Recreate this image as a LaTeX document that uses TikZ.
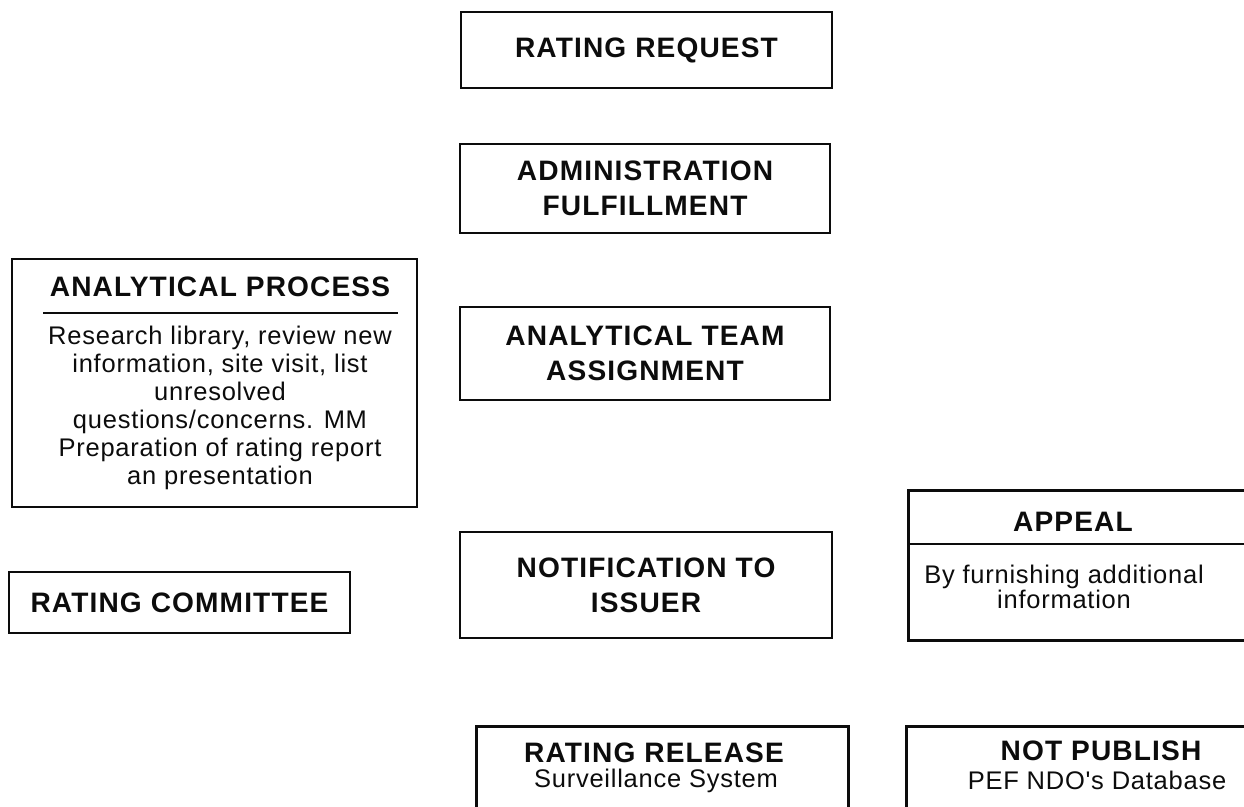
\documentclass[tikz,border=0pt]{standalone}
\usepackage{fontspec}
\setmainfont{Liberation Sans}
\newfontfamily\headsans[LetterSpace=4]{Liberation Sans}
\newfontfamily\bodysans[LetterSpace=3]{Liberation Sans}
\usetikzlibrary{positioning}
\definecolor{scanBlack}{RGB}{12,12,12}

\begin{document}
\begin{tikzpicture}[x=0.02cm,y=-0.02cm,
    boxline/.style={draw=scanBlack, line width=1.6pt, inner sep=0pt},
    headtext/.style={text=scanBlack, align=center, inner sep=0pt,
        font=\headsans\bfseries\fontsize{16}{20}\selectfont},
    bodytext/.style={text=scanBlack, align=center, inner sep=0pt,
        font=\bodysans\fontsize{14.5}{13}\selectfont}]
    \useasboundingbox (0,0) rectangle (1244,806);
    \clip (0,0) rectangle (1244,806);

    % centre column
    \node[boxline, headtext, minimum width=7.42cm, minimum height=1.52cm] (request) at (646.5,50) {RATING REQUEST};
    \node[boxline, headtext, minimum width=7.40cm, minimum height=1.78cm] (admin) at (645,188.5) {ADMINISTRATION\\FULFILLMENT};
    \node[boxline, headtext, minimum width=7.40cm, minimum height=1.86cm] (team) at (645,353.5) {ANALYTICAL TEAM\\ASSIGNMENT};
    \node[boxline, headtext, minimum width=7.44cm, minimum height=2.12cm] (notify) at (646,585) {NOTIFICATION TO\\ISSUER};

    % left column
    \node[boxline, minimum width=8.10cm, minimum height=4.96cm] (process) at (214.5,383) {};
    \node[headtext] (processHead) at (220,287) {ANALYTICAL PROCESS};
    \draw[scanBlack, line width=1.3pt] (43,313) -- (398,313);
    \node[bodytext, font=\bodysans\fontsize{14.5}{15.9}\selectfont] (processText) at (220,408)
        {Research library, review new\\information, site visit, list\\unresolved\\questions/concerns. MM\\Preparation of rating report\\an presentation};
    \node[boxline, headtext, minimum width=6.82cm, minimum height=1.22cm] (committee) at (179.5,602.5) {RATING COMMITTEE};

    % right column
    \node[boxline, anchor=north west, minimum width=8.4cm, minimum height=3.0cm] (appeal) at (907,489) {};
    \node[headtext] (appealHead) at (1073,522) {APPEAL};
    \draw[scanBlack, line width=1.3pt] (907,544) -- (1250,544);
    \node[bodytext] (appealText) at (1064,587) {By furnishing additional\\information};

    % bottom row
    \node[boxline, anchor=north west, minimum width=7.44cm, minimum height=2.4cm] (release) at (475,725) {};
    \node[headtext] (releaseHead) at (654,753) {RATING RELEASE};
    \node[bodytext] (releaseText) at (656,781) {Surveillance System};
    \node[boxline, anchor=north west, minimum width=8.4cm, minimum height=2.4cm] (notpub) at (905,725) {};
    \node[headtext] (notpubHead) at (1101,751) {NOT PUBLISH};
    \node[bodytext] (notpubText) at (1097,780) {PEF NDO's Database};
\end{tikzpicture}
\end{document}
